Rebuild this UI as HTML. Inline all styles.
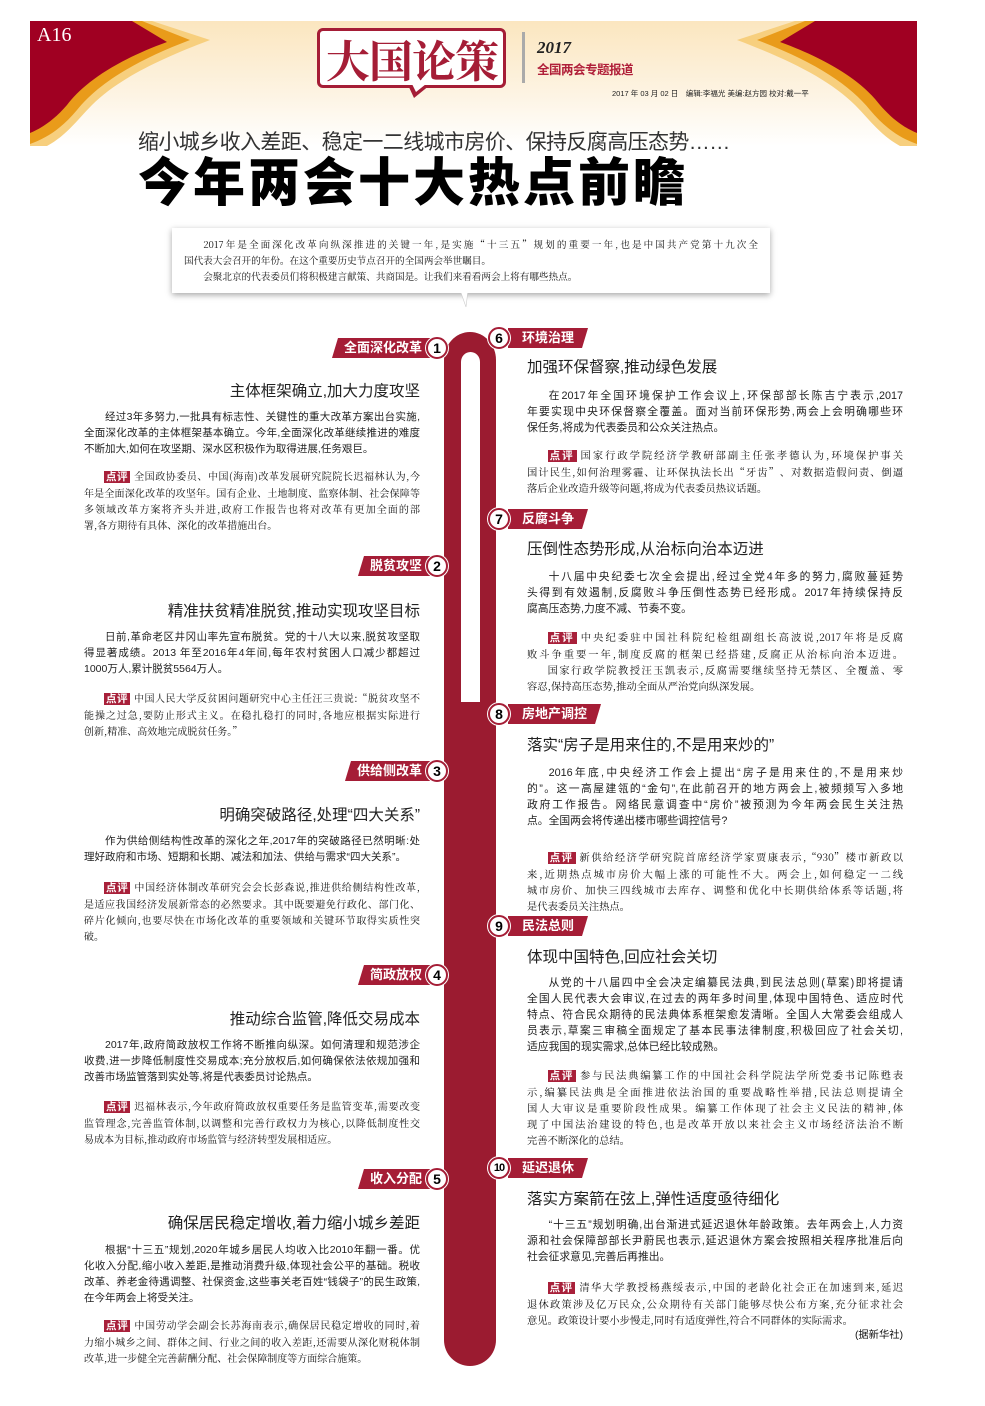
<!DOCTYPE html>
<html><head><meta charset="utf-8">
<style>
*{margin:0;padding:0;box-sizing:border-box}
body{width:985px;height:1406px;background:#fff;position:relative;overflow:hidden;font-family:"Liberation Sans","Noto Sans CJK SC",sans-serif;color:#222}
.a{position:absolute}
.blk{position:absolute;line-height:16px;font-size:10.5px;color:#222}
.blk span{display:block;white-space:nowrap;text-align:justify;text-align-last:justify}
.blk span.e{text-align-last:left}
.blk span.i{padding-left:2em}
.L{left:84px;width:336px}
.R{left:527px;width:376px;font-size:10.8px}
.pp{font-family:"Noto Serif CJK SC","Liberation Serif",serif;font-size:10px;color:#111}
.R.pp{font-size:10.3px}
.tag{background:#a8203a;color:#fff;font-family:"Liberation Sans","Noto Sans CJK SC",sans-serif;font-size:10.5px;padding:0 2px;margin-right:4px}
.hl{position:absolute;font-size:15.5px;line-height:20px;color:#222;white-space:nowrap}
.hL{right:565px;text-align:right}
.hR{left:527px}
.lab{position:absolute;height:20px;background:#a51d36;color:#fff;font-weight:bold;font-size:13px;line-height:20px;white-space:nowrap}
.labL{padding:0 16px 0 12px;clip-path:polygon(6px 0,100% 0,100% 100%,0 100%)}
.labR{padding:0 14px 0 14px;clip-path:polygon(0 0,100% 0,calc(100% - 6px) 100%,0 100%)}
.num{position:absolute;width:22px;height:22px;border-radius:50%;background:#fff;border:2px solid #a51d36;color:#000;font-weight:bold;font-size:14px;line-height:18px;text-align:center;box-shadow:0 0 0 1px #fff;z-index:2}
</style></head><body>

<svg class="a" style="left:0;top:0" width="985" height="160">
<defs>
<linearGradient id="cg" x1="0" y1="0" x2="0" y2="1">
<stop offset="0" stop-color="#fbe6bf"/><stop offset="0.6" stop-color="#fdf4e4"/><stop offset="1" stop-color="#fff"/></linearGradient>
<g id="drape">
<path d="M795,21 L737,40 C790,60 830,80 855,105 C870,120 880,135 900,146 L917,146 L917,21 Z" fill="#f7cf7e"/>
<path d="M805,21 L757,40 C815,62 850,85 870,110 C885,128 900,138 917,144 L917,21 Z" fill="#e99b1a"/>
<path d="M815,21 L780,42 C835,62 865,85 880,105 C893,120 905,128 917,133 L917,21 Z" fill="#a00022"/>
</g>
</defs>
<rect x="30" y="21" width="887" height="125" fill="url(#cg)"/>
<use href="#drape"/>
<use href="#drape" transform="translate(947,0) scale(-1,1)"/>
</svg>

<div class="a" style="left:37px;top:24px;font-family:'Liberation Serif',serif;font-size:20px;color:#fff">A16</div>

<div class="a" style="left:317px;top:28px;width:189px;height:60px;border:3px solid #a51d36;border-radius:6px;background:#fff"></div>
<svg class="a" style="left:400px;top:84px" width="40" height="16"><path d="M8,1 L30,1 L14,14 Z" fill="#a51d36"/><path d="M12,0 L26,0 L16,8 Z" fill="#fff"/></svg>
<div class="a" style="left:322px;top:30px;width:180px;text-align:center;font-size:44px;line-height:56px;font-weight:bold;color:#a51d36;font-family:'Noto Serif CJK SC','Noto Sans CJK SC',serif;letter-spacing:-1px">大国论策</div>
<div class="a" style="left:522px;top:32px;width:3px;height:51px;background:#aaa"></div>
<div class="a" style="left:537px;top:38px;font-family:'Liberation Serif',serif;font-style:italic;font-weight:bold;font-size:17px;color:#222">2017</div>
<div class="a" style="left:537px;top:59px;font-size:12.5px;font-weight:bold;color:#b0203a;letter-spacing:-0.5px">全国两会专题报道</div>
<div class="a" style="left:612px;top:88px;font-size:7.5px;color:#222;white-space:nowrap">2017 年 03 月 02 日　编辑:李福光 美编:赵方园 校对:戴一平</div>

<div class="a" style="left:138px;top:129px;font-size:21px;line-height:28px;color:#333;white-space:nowrap;letter-spacing:-0.6px">缩小城乡收入差距、稳定一二线城市房价、保持反腐高压态势……</div>
<div class="a" style="left:138px;top:154px;font-size:52px;line-height:60px;font-weight:900;color:#000;white-space:nowrap;letter-spacing:3px">今年两会十大热点前瞻</div>

<div class="a" style="left:172px;top:228px;width:598px;height:65px;background:#fff;box-shadow:0 2px 6px rgba(0,0,0,.35)"></div>
<svg class="a" style="left:455px;top:290px" width="30" height="18"><path d="M5,0 L13,0 L11,17 Z" fill="#fff" stroke="#ccc" stroke-width="0.6"/><rect x="3" y="0" width="14" height="3" fill="#fff"/></svg>
<div class="blk pp" style="left:184px;top:236px;width:574px;font-size:9.6px">
<span class="i">2017年是全面深化改革向纵深推进的关键一年,是实施“十三五”规划的重要一年,也是中国共产党第十九次全</span>
<span class="e">国代表大会召开的年份。在这个重要历史节点召开的全国两会举世瞩目。</span>
<span class="e i">会聚北京的代表委员们将积极建言献策、共商国是。让我们来看看两会上将有哪些热点。</span>
</div>

<svg class="a" style="left:0;top:0" width="985" height="1406">
<path d="M444,360 A26,28 0 0 1 496,360 L496,1340 A26,26 0 0 1 444,1340 Z" fill="#9b1b30"/>
<path d="M461,362 A9.5,10 0 0 1 480,362 L480,702 L461,702 Z" fill="#fff"/>
</svg>

<div class="lab labL" style="right:547px;top:338px">全面深化改革</div><div class="num" style="left:426px;top:337px">1</div>
<div class="lab labL" style="right:547px;top:556px">脱贫攻坚</div><div class="num" style="left:426px;top:555px">2</div>
<div class="lab labL" style="right:547px;top:761px">供给侧改革</div><div class="num" style="left:426px;top:760px">3</div>
<div class="lab labL" style="right:547px;top:965px">简政放权</div><div class="num" style="left:426px;top:964px">4</div>
<div class="lab labL" style="right:547px;top:1169px">收入分配</div><div class="num" style="left:426px;top:1168px">5</div>
<div class="num" style="left:488px;top:327px">6</div><div class="lab labR" style="left:508px;top:328px">环境治理</div>
<div class="num" style="left:488px;top:508px">7</div><div class="lab labR" style="left:508px;top:509px">反腐斗争</div>
<div class="num" style="left:488px;top:703px">8</div><div class="lab labR" style="left:508px;top:704px">房地产调控</div>
<div class="num" style="left:488px;top:915px">9</div><div class="lab labR" style="left:508px;top:916px">民法总则</div>
<div class="num" style="left:488px;top:1157px;font-size:11px;letter-spacing:-1px">10</div><div class="lab labR" style="left:508px;top:1158px">延迟退休</div>

<div class="hl hL" style="top:382px">主体框架确立,加大力度攻坚</div>
<div class="blk L" style="top:409px">
<span class="i">经过3年多努力,一批具有标志性、关键性的重大改革方案出台实施,</span>
<span>全面深化改革的主体框架基本确立。今年,全面深化改革继续推进的难度</span>
<span class="e">不断加大,如何在攻坚期、深水区积极作为取得进展,任务艰巨。</span></div>
<div class="blk L pp" style="top:468px">
<span class="i"><b class="tag">点评</b>全国政协委员、中国(海南)改革发展研究院院长迟福林认为,今</span>
<span>年是全面深化改革的攻坚年。国有企业、土地制度、监察体制、社会保障等</span>
<span>多领域改革方案将齐头并进,政府工作报告也将对改革有更加全面的部</span>
<span class="e">署,各方期待有具体、深化的改革措施出台。</span></div>

<div class="hl hL" style="top:602px">精准扶贫精准脱贫,推动实现攻坚目标</div>
<div class="blk L" style="top:629px">
<span class="i">日前,革命老区井冈山率先宣布脱贫。党的十八大以来,脱贫攻坚取</span>
<span>得显著成绩。2013 年至2016年4年间,每年农村贫困人口减少都超过</span>
<span class="e">1000万人,累计脱贫5564万人。</span></div>
<div class="blk L pp" style="top:690px">
<span class="i"><b class="tag">点评</b>中国人民大学反贫困问题研究中心主任汪三贵说:“脱贫攻坚不</span>
<span>能操之过急,要防止形式主义。在稳扎稳打的同时,各地应根据实际进行</span>
<span class="e">创新,精准、高效地完成脱贫任务。”</span></div>

<div class="hl hL" style="top:806px">明确突破路径,处理“四大关系”</div>
<div class="blk L" style="top:833px">
<span class="i">作为供给侧结构性改革的深化之年,2017年的突破路径已然明晰:处</span>
<span class="e">理好政府和市场、短期和长期、减法和加法、供给与需求“四大关系”。</span></div>
<div class="blk L pp" style="top:879px">
<span class="i"><b class="tag">点评</b>中国经济体制改革研究会会长彭森说,推进供给侧结构性改革,</span>
<span>是适应我国经济发展新常态的必然要求。其中既要避免行政化、部门化、</span>
<span>碎片化倾向,也要尽快在市场化改革的重要领域和关键环节取得实质性突</span>
<span class="e">破。</span></div>

<div class="hl hL" style="top:1010px">推动综合监管,降低交易成本</div>
<div class="blk L" style="top:1037px">
<span class="i">2017年,政府简政放权工作将不断推向纵深。如何清理和规范涉企</span>
<span>收费,进一步降低制度性交易成本;充分放权后,如何确保依法依规加强和</span>
<span class="e">改善市场监管落到实处等,将是代表委员讨论热点。</span></div>
<div class="blk L pp" style="top:1098px">
<span class="i"><b class="tag">点评</b>迟福林表示,今年政府简政放权重要任务是监管变革,需要改变</span>
<span>监管理念,完善监管体制,以调整和完善行政权力为核心,以降低制度性交</span>
<span class="e">易成本为目标,推动政府市场监管与经济转型发展相适应。</span></div>

<div class="hl hL" style="top:1214px">确保居民稳定增收,着力缩小城乡差距</div>
<div class="blk L" style="top:1242px">
<span class="i">根据“十三五”规划,2020年城乡居民人均收入比2010年翻一番。优</span>
<span>化收入分配,缩小收入差距,是推动消费升级,体现社会公平的基础。税收</span>
<span>改革、养老金待遇调整、社保资金,这些事关老百姓“钱袋子”的民生政策,</span>
<span class="e">在今年两会上将受关注。</span></div>
<div class="blk L pp" style="top:1317px">
<span class="i"><b class="tag">点评</b>中国劳动学会副会长苏海南表示,确保居民稳定增收的同时,着</span>
<span>力缩小城乡之间、群体之间、行业之间的收入差距,还需要从深化财税体制</span>
<span class="e">改革,进一步健全完善薪酬分配、社会保障制度等方面综合施策。</span></div>

<div class="hl hR" style="top:358px">加强环保督察,推动绿色发展</div>
<div class="blk R" style="top:388px">
<span class="i">在2017年全国环境保护工作会议上,环保部部长陈吉宁表示,2017</span>
<span>年要实现中央环保督察全覆盖。面对当前环保形势,两会上会明确哪些环</span>
<span class="e">保任务,将成为代表委员和公众关注热点。</span></div>
<div class="blk R pp" style="top:447px">
<span class="i"><b class="tag">点评</b>国家行政学院经济学教研部副主任张孝德认为,环境保护事关</span>
<span>国计民生,如何治理雾霾、让环保执法长出“牙齿”、对数据造假问责、倒逼</span>
<span class="e">落后企业改造升级等问题,将成为代表委员热议话题。</span></div>

<div class="hl hR" style="top:540px">压倒性态势形成,从治标向治本迈进</div>
<div class="blk R" style="top:569px">
<span class="i">十八届中央纪委七次全会提出,经过全党4年多的努力,腐败蔓延势</span>
<span>头得到有效遏制,反腐败斗争压倒性态势已经形成。2017年持续保持反</span>
<span class="e">腐高压态势,力度不减、节奏不变。</span></div>
<div class="blk R pp" style="top:629px">
<span class="i"><b class="tag">点评</b>中央纪委驻中国社科院纪检组副组长高波说,2017年将是反腐</span>
<span>败斗争重要一年,制度反腐的框架已经搭建,反腐正从治标向治本迈进。</span>
<span class="i">国家行政学院教授汪玉凯表示,反腐需要继续坚持无禁区、全覆盖、零</span>
<span class="e">容忍,保持高压态势,推动全面从严治党向纵深发展。</span></div>

<div class="hl hR" style="top:736px">落实“房子是用来住的,不是用来炒的”</div>
<div class="blk R" style="top:765px">
<span class="i">2016年底,中央经济工作会上提出“房子是用来住的,不是用来炒</span>
<span>的”。这一高屋建瓴的“金句”,在此前召开的地方两会上,被频频写入多地</span>
<span>政府工作报告。网络民意调查中“房价”被预测为今年两会民生关注热</span>
<span class="e">点。全国两会将传递出楼市哪些调控信号?</span></div>
<div class="blk R pp" style="top:849px">
<span class="i"><b class="tag">点评</b>新供给经济学研究院首席经济学家贾康表示,“930”楼市新政以</span>
<span>来,近期热点城市房价大幅上涨的可能性不大。两会上,如何稳定一二线</span>
<span>城市房价、加快三四线城市去库存、调整和优化中长期供给体系等话题,将</span>
<span class="e">是代表委员关注热点。</span></div>

<div class="hl hR" style="top:948px">体现中国特色,回应社会关切</div>
<div class="blk R" style="top:975px">
<span class="i">从党的十八届四中全会决定编纂民法典,到民法总则(草案)即将提请</span>
<span>全国人民代表大会审议,在过去的两年多时间里,体现中国特色、适应时代</span>
<span>特点、符合民众期待的民法典体系框架愈发清晰。全国人大常委会组成人</span>
<span>员表示,草案三审稿全面规定了基本民事法律制度,积极回应了社会关切,</span>
<span class="e">适应我国的现实需求,总体已经比较成熟。</span></div>
<div class="blk R pp" style="top:1067px">
<span class="i"><b class="tag">点评</b>参与民法典编纂工作的中国社会科学院法学所党委书记陈甦表</span>
<span>示,编纂民法典是全面推进依法治国的重要战略性举措,民法总则提请全</span>
<span>国人大审议是重要阶段性成果。编纂工作体现了社会主义民法的精神,体</span>
<span>现了中国法治建设的特色,也是改革开放以来社会主义市场经济法治不断</span>
<span class="e">完善不断深化的总结。</span></div>

<div class="hl hR" style="top:1190px">落实方案箭在弦上,弹性适度亟待细化</div>
<div class="blk R" style="top:1217px">
<span class="i">“十三五”规划明确,出台渐进式延迟退休年龄政策。去年两会上,人力资</span>
<span>源和社会保障部部长尹蔚民也表示,延迟退休方案会按照相关程序批准后向</span>
<span class="e">社会征求意见,完善后再推出。</span></div>
<div class="blk R pp" style="top:1279px">
<span class="i"><b class="tag">点评</b>清华大学教授杨燕绥表示,中国的老龄化社会正在加速到来,延迟</span>
<span>退休政策涉及亿万民众,公众期待有关部门能够尽快公布方案,充分征求社会</span>
<span class="e">意见。政策设计要小步慢走,同时有适度弹性,符合不同群体的实际需求。</span>
<span class="e" style="text-align:right;text-align-last:right;font-family:'Liberation Sans','Noto Sans CJK SC',sans-serif">(据新华社)</span></div>

</body></html>
